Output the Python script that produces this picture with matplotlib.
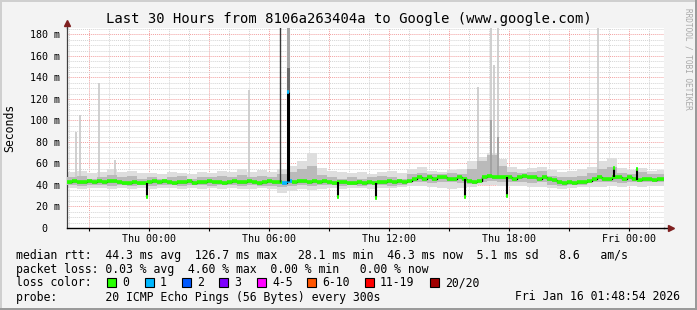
import matplotlib

matplotlib.use("Agg")

import matplotlib.pyplot as plt
import numpy as np
from matplotlib.lines import Line2D
from matplotlib.patches import Rectangle
from matplotlib.ticker import FixedLocator, MultipleLocator

W, H = 697, 310
MONO = "DejaVu Sans Mono"

# time axis: hours relative to Thu 00:00
START_HOUR = -4.1
END_HOUR = 25.75
MEDIAN_STEP = 0.25
SMOKE_STEP = 0.5

# median rtt (ms), one value per 15 minutes
median_rtt = [
    43, 44, 43, 43, 44, 43, 44, 43, 44,
    44, 43, 42, 42, 43, 42, 42,
    43, 44, 43, 44, 43, 42, 43, 43, 44, 42, 43,
    43, 44, 43, 43, 42, 43, 44, 43, 43, 44, 43, 42, 43, 44, 43, 43,
    42, 44,
    43, 44, 44, 43, 44, 43, 44, 43, 42, 43,
    43, 42, 42, 43, 42, 43, 42,
    43, 43, 44, 43, 44, 43, 44,
    46, 47, 46, 47, 46, 47, 47, 46, 46, 47, 46,
    44, 43, 44,
    47, 48, 47, 47, 47,
    47, 46, 47, 48, 47, 47, 46, 47, 46, 45,
    43, 42, 43, 42, 43, 43, 44,
    46, 47, 46, 46, 47, 47, 46, 47, 46, 45, 46, 46, 45, 46, 46,
]
loss_steps = [43, 44]
loss_counts = [1, 1]

# smoke envelope (ms), one value per 30 minutes
smoke_outer_lo = [
    37, 36, 37, 37, 36, 37, 36, 37, 36, 37,
    37, 36, 37, 36, 37, 36, 37, 36, 36, 37,
    36, 33, 34, 36, 35, 36, 37, 36, 37, 37,
    36, 37, 37, 38, 39, 39, 38, 37, 36, 37,
    38, 40, 40, 39, 39, 39, 38, 38, 37, 36,
    37, 38, 38, 38, 39, 38, 39, 38, 39, 39,
]
smoke_outer_hi = [
    52, 53, 51, 52, 55, 52, 53, 51, 51, 50,
    52, 51, 50, 52, 51, 53, 52, 55, 52, 54,
    52, 55, 58, 62, 70, 56, 53, 52, 51, 52,
    50, 52, 53, 51, 55, 57, 53, 52, 54, 55,
    62, 66, 70, 64, 57, 55, 56, 57, 54, 52,
    53, 55, 57, 62, 65, 56, 54, 56, 53, 54,
]
smoke_inner_lo = [
    40, 39, 40, 40, 39, 40, 39, 40, 39, 40,
    40, 39, 40, 40, 39, 40, 40, 39, 40, 39,
    39, 38, 39, 40, 39, 40, 40, 39, 40, 39,
    40, 40, 39, 40, 43, 43, 42, 43, 43, 42,
    41, 43, 44, 43, 43, 43, 42, 43, 40, 39,
    40, 40, 43, 43, 43, 42, 43, 43, 43, 43,
]
smoke_inner_hi = [
    47, 48, 46, 47, 49, 47, 48, 46, 47, 46,
    47, 48, 46, 47, 47, 48, 47, 49, 47, 48,
    47, 50, 52, 55, 58, 49, 47, 46, 47, 46,
    47, 48, 47, 46, 50, 51, 50, 50, 51, 50,
    55, 62, 68, 58, 52, 51, 52, 53, 48, 47,
    47, 48, 51, 55, 57, 51, 50, 52, 50, 50,
]

# short events
dip_hours = [-0.1, 9.45, 11.35, 15.8, 17.9]
dip_values = [28.5, 29.0, 28.1, 28.5, 29.7]
bump_hours = [23.25, 24.4]
bump_values = [56, 55]
peak_hours = [6.95]
peak_values = [126.7]
lossy_column_hours = [6.55]
lossy_column_tops = [190]
spike_hours = [-3.65, -3.43, -2.5, -1.7, 5.0, 16.45, 17.1, 17.25, 17.45, 22.45]
spike_tops = [89, 105, 135, 63, 128, 131, 190, 152, 190, 190]
dense_hours = [17.1, 17.45]
dense_tops = [100, 85]

x_tick_hours = [0, 6, 12, 18, 24]
x_tick_labels = ["Thu 00:00", "Thu 06:00", "Thu 12:00", "Thu 18:00", "Fri 00:00"]
y_tick_values = [0, 20, 40, 60, 80, 100, 120, 140, 160, 180]
y_tick_labels = ["0  ", "20 m", "40 m", "60 m", "80 m", "100 m", "120 m", "140 m", "160 m", "180 m"]

loss_labels = ["0", "1", "2", "3", "4-5", "6-10", "11-19", "20/20"]
loss_colors = ["#26ff00", "#00b8ff", "#0059ff", "#7e00ff", "#ff00ff", "#ff5500", "#ff0000", "#a10000"]

legend_lines = [
    "median rtt:  44.3 ms avg  126.7 ms max   28.1 ms min  46.3 ms now  5.1 ms sd   8.6   am/s",
    "packet loss: 0.03 % avg  4.60 % max  0.00 % min   0.00 % now",
    "loss color:",
    "probe:       20 ICMP Echo Pings (56 Bytes) every 300s",
]
stamp = "Fri Jan 16 01:48:54 2026"


def fx(px):
    return px / W


def fy(py):
    return 1 - py / H


def median_at(hour):
    return median_rtt[int((hour - START_HOUR) // MEDIAN_STEP)]


fig = plt.figure(figsize=(W / 100, H / 100), dpi=100, facecolor="#f3f3f3")

# frame shading
fig.add_artist(Rectangle((0, fy(2)), 1, 2 / H, transform=fig.transFigure, color="#cfcfcf", lw=0))
fig.add_artist(Rectangle((0, 0), 2 / W, 1, transform=fig.transFigure, color="#cfcfcf", lw=0))
fig.add_artist(Rectangle((0, 0), 1, 2 / H, transform=fig.transFigure, color="#9a9a9a", lw=0))
fig.add_artist(Rectangle((1 - 2 / W, 0), 2 / W, 1, transform=fig.transFigure, color="#9a9a9a", lw=0))

ax = fig.add_axes([fx(67), fy(228), 597 / W, 200 / H])
ax.set_facecolor("white")
ax.set_xlim(START_HOUR, END_HOUR)
ax.set_ylim(0, 186)

# smoke
smoke_edges = START_HOUR + SMOKE_STEP * np.arange(len(smoke_outer_hi) + 1)
ax.stairs(smoke_outer_hi, smoke_edges, baseline=smoke_outer_lo, fill=True, color="#dedede", zorder=2)
ax.stairs(smoke_inner_hi, smoke_edges, baseline=smoke_inner_lo, fill=True, color="#bababa", zorder=3)
ax.vlines(spike_hours, [median_at(h) for h in spike_hours], spike_tops, color="#cccccc", lw=1.3, zorder=2.5)
ax.vlines(dense_hours, [median_at(h) for h in dense_hours], dense_tops, color="#a0a0a0", lw=1.3, zorder=3)

# median
med_edges = START_HOUR + MEDIAN_STEP * np.arange(len(median_rtt) + 1)
ax.stairs(median_rtt, med_edges, baseline=None, color="black", lw=1.0, zorder=4)
step_colors = [loss_colors[0]] * len(median_rtt)
for step, count in zip(loss_steps, loss_counts):
    step_colors[step] = loss_colors[count]
ax.hlines(median_rtt, med_edges[:-1], med_edges[1:], colors=step_colors, lw=2.6, zorder=5)

# lossy column and median peak
ax.vlines(lossy_column_hours, [median_at(h) for h in lossy_column_hours], lossy_column_tops,
          color="#383838", lw=1.0, zorder=6)
for h, v in zip(peak_hours, peak_values):
    ax.vlines(h, v, 150, color="#6a6a6a", lw=2.2, zorder=5.5)
    ax.vlines(h, 150, 190, color="#a4a4a4", lw=2.2, zorder=5.5)
    ax.vlines(h, median_at(h), v, color="black", lw=2.2, zorder=6)
    ax.hlines(v, h - 0.05, h + 0.05, color=loss_colors[1], lw=2.6, zorder=7)

# dips and bumps of the median
for hours, values in ((dip_hours, dip_values), (bump_hours, bump_values)):
    ax.vlines(hours, [median_at(h) for h in hours], values, color="black", lw=1.5, zorder=6)
    ax.hlines(values, np.array(hours) - 0.05, np.array(hours) + 0.05, color=loss_colors[0], lw=2.6, zorder=7)

# grid and ticks
ax.xaxis.set_minor_locator(MultipleLocator(1))
ax.yaxis.set_major_locator(FixedLocator(y_tick_values))
ax.yaxis.set_minor_locator(MultipleLocator(5))
major_x = np.arange(-3, 26, 3)
ax.set_xticks(major_x)
ax.set_xticklabels([x_tick_labels[x_tick_hours.index(t)] if t in x_tick_hours else "" for t in major_x])
ax.set_yticks(y_tick_values)
ax.set_yticklabels(y_tick_labels)
ax.grid(which="major", color="#f2a0a0", ls=(0, (1, 1)), lw=0.7)
ax.grid(which="minor", color="#d4d4d4", ls=(0, (1, 1)), lw=0.7)
ax.set_axisbelow(True)
ax.tick_params(axis="x", which="major", length=2.5, width=0.8, pad=2, labelsize=7.2, colors="black")
ax.tick_params(axis="x", which="minor", length=0)
ax.tick_params(axis="y", which="both", length=0, pad=5, labelsize=7.2)
for label in ax.get_xticklabels() + ax.get_yticklabels():
    label.set_family(MONO)

for side in ("top", "right"):
    ax.spines[side].set_visible(False)
ax.spines["left"].set_color("#404040")
ax.spines["left"].set_linewidth(0.9)
ax.spines["bottom"].set_color("black")
ax.spines["bottom"].set_linewidth(1.0)
ax.add_artist(Line2D([1, 1 + 6 / 597], [0, 0], transform=ax.transAxes, color="black", lw=1.0, clip_on=False))
ax.plot([1 + 7 / 597], [0], marker=">", ms=4.5, color="#7f1f1f", transform=ax.transAxes, clip_on=False)
ax.add_artist(Line2D([0, 0], [1, 1 + 3 / 200], transform=ax.transAxes, color="#404040", lw=0.9, clip_on=False))
ax.plot([0], [1 + 5 / 200], marker="^", ms=4.5, color="#7f1f1f", transform=ax.transAxes, clip_on=False)

# texts
fig.text(0.5, fy(19), "Last 30 Hours from 8106a263404a to Google (www.google.com)",
         ha="center", va="center", family=MONO, fontsize=10)
fig.text(fx(10), fy(128), "Seconds", rotation=90, ha="center", va="center", family=MONO, fontsize=8.3)
fig.text(fx(688), fy(8), "RRDTOOL / TOBI OETIKER", rotation=270, ha="center", va="top",
         family=MONO, fontsize=5.6, color="#a8a8a8")

for row, line in enumerate(legend_lines):
    fig.text(fx(16), fy(255 + 14 * row), line, ha="left", va="center", family=MONO, fontsize=8.3)
fig.text(fx(680), fy(297), stamp, ha="right", va="center", family=MONO, fontsize=8.3)

box_lefts = [107, 145, 182, 219, 257, 307, 365, 430]
for left, color, label in zip(box_lefts, loss_colors, loss_labels):
    fig.add_artist(Rectangle((fx(left), fy(287)), 9 / W, 9 / H, transform=fig.transFigure,
                             facecolor=color, edgecolor="black", lw=0.8))
    fig.text(fx(left + 15), fy(283), label, ha="left", va="center", family=MONO, fontsize=8.3)

fig.savefig("out.png", dpi=100, facecolor=fig.get_facecolor())
